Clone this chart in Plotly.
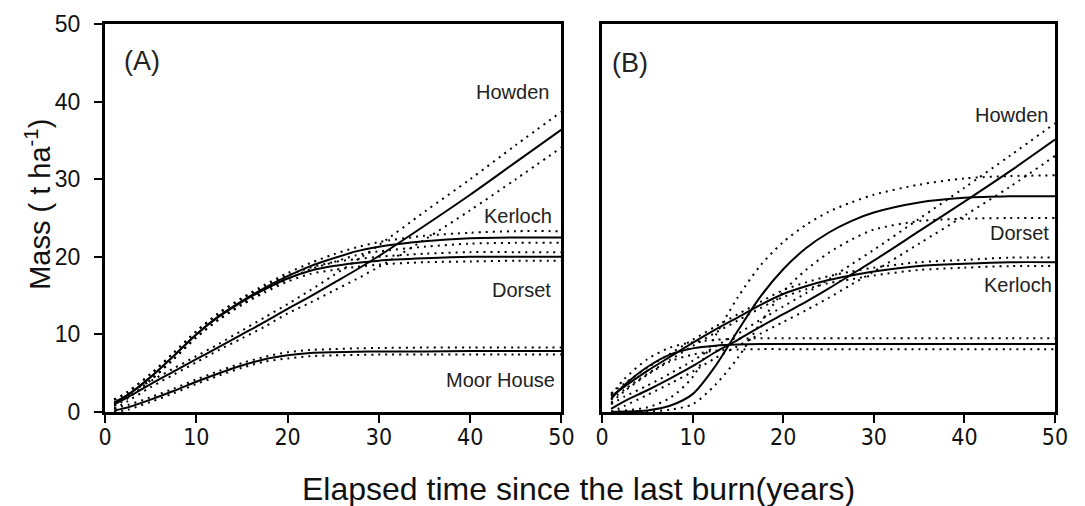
import plotly.graph_objects as go

# ---------------- data ----------------
years = [1, 2.5, 5, 7.5, 10, 12.5, 15, 17.5, 20, 22.5, 25, 27.5, 30, 35, 40, 45, 50]
x_ticks = [0, 10, 20, 30, 40, 50]
y_ticks = [0, 10, 20, 30, 40, 50]

# Panel (A)
a_howden = [1.0, 1.9, 3.6, 5.2, 6.8, 8.4, 10.0, 11.6, 13.3, 14.9, 16.6, 18.3, 20.1, 24.0, 28.0, 32.2, 36.4]
a_howden_hi = [1.6, 2.4, 4.0, 5.6, 7.2, 8.8, 10.5, 12.2, 13.9, 15.7, 17.6, 19.5, 21.5, 25.8, 30.0, 34.4, 38.7]
a_howden_lo = [0.4, 1.4, 3.2, 4.8, 6.4, 8.0, 9.5, 11.0, 12.7, 14.1, 15.6, 17.1, 18.7, 22.2, 26.0, 30.0, 34.1]

a_kerloch = [1.2, 2.2, 4.5, 7.2, 10.0, 12.4, 14.3, 16.0, 17.5, 18.8, 19.8, 20.7, 21.3, 22.0, 22.4, 22.5, 22.5]
a_kerloch_hi = [1.6, 2.6, 4.9, 7.6, 10.4, 12.8, 14.7, 16.4, 17.9, 19.2, 20.3, 21.2, 21.9, 22.7, 23.1, 23.3, 23.3]
a_kerloch_lo = [0.8, 1.8, 4.1, 6.8, 9.6, 12.0, 13.9, 15.6, 17.1, 18.4, 19.3, 20.2, 20.7, 21.3, 21.7, 21.8, 21.8]

a_dorset = [1.2, 2.2, 4.5, 7.2, 10.0, 12.3, 14.2, 15.8, 17.2, 18.2, 18.8, 19.2, 19.5, 19.8, 20.0, 20.0, 20.0]
a_dorset_hi = [1.6, 2.6, 4.9, 7.6, 10.4, 12.7, 14.6, 16.2, 17.6, 18.6, 19.3, 19.7, 20.0, 20.4, 20.6, 20.6, 20.6]
a_dorset_lo = [0.8, 1.8, 4.1, 6.8, 9.6, 11.9, 13.8, 15.4, 16.8, 17.8, 18.3, 18.7, 19.0, 19.3, 19.4, 19.5, 19.5]

a_moor = [0.2, 0.6, 1.6, 2.7, 3.9, 5.0, 6.0, 6.8, 7.3, 7.6, 7.7, 7.75, 7.8, 7.8, 7.85, 7.85, 7.85]
a_moor_hi = [0.5, 0.9, 1.9, 3.0, 4.2, 5.3, 6.3, 7.1, 7.7, 8.0, 8.1, 8.2, 8.25, 8.3, 8.3, 8.3, 8.3]
a_moor_lo = [0.0, 0.3, 1.3, 2.4, 3.6, 4.7, 5.7, 6.5, 6.9, 7.2, 7.3, 7.35, 7.4, 7.4, 7.4, 7.4, 7.4]

# Panel (B)
b_howden = [0.4, 1.4, 2.8, 4.3, 5.9, 7.7, 9.3, 11.0, 12.6, 14.2, 15.9, 17.7, 19.5, 23.3, 27.1, 31.0, 35.1]
b_howden_hi = [1.0, 2.0, 3.4, 4.95, 6.6, 8.45, 10.1, 11.9, 13.6, 15.3, 17.1, 19.0, 20.9, 24.9, 28.9, 33.0, 37.2]
b_howden_lo = [0.0, 0.8, 2.2, 3.65, 5.2, 6.95, 8.5, 10.1, 11.6, 13.1, 14.7, 16.4, 18.1, 21.7, 25.3, 29.0, 33.0]

b_kerloch = [2.0, 3.3, 5.3, 7.1, 8.9, 10.6, 12.2, 13.8, 15.2, 16.2, 17.0, 17.6, 18.1, 18.8, 19.1, 19.3, 19.3]
b_kerloch_hi = [2.4, 3.7, 5.7, 7.5, 9.3, 11.0, 12.6, 14.2, 15.7, 16.7, 17.5, 18.1, 18.6, 19.3, 19.6, 19.9, 19.9]
b_kerloch_lo = [1.6, 2.9, 4.9, 6.7, 8.5, 10.2, 11.8, 13.4, 14.8, 15.8, 16.6, 17.1, 17.6, 18.3, 18.6, 18.8, 18.8]

b_dorset = [0.0, 0.05, 0.2, 0.8, 2.3, 5.9, 10.5, 14.9, 18.4, 21.1, 23.1, 24.6, 25.7, 27.0, 27.6, 27.8, 27.8]
b_dorset_hi = [0.1, 0.2, 0.6, 1.8, 4.5, 9.8, 14.8, 18.9, 21.9, 24.1, 25.8, 27.0, 28.0, 29.3, 30.1, 30.4, 30.5]
b_dorset_lo = [0.0, 0.0, 0.05, 0.3, 1.0, 3.5, 7.0, 11.5, 15.5, 18.3, 20.5, 22.2, 23.5, 24.6, 24.9, 25.0, 25.0]

b_moor = [1.7, 3.5, 5.8, 7.4, 8.2, 8.55, 8.7, 8.75, 8.75, 8.75, 8.75, 8.75, 8.75, 8.75, 8.75, 8.75, 8.75]
b_moor_hi = [2.2, 4.3, 6.8, 8.3, 9.0, 9.3, 9.45, 9.5, 9.5, 9.5, 9.5, 9.5, 9.5, 9.5, 9.5, 9.5, 9.5]
b_moor_lo = [1.2, 2.7, 4.8, 6.5, 7.4, 7.9, 8.05, 8.1, 8.1, 8.1, 8.1, 8.1, 8.1, 8.1, 8.1, 8.1, 8.1]

panels = {
    "A": [(a_howden, a_howden_hi, a_howden_lo), (a_kerloch, a_kerloch_hi, a_kerloch_lo),
          (a_dorset, a_dorset_hi, a_dorset_lo), (a_moor, a_moor_hi, a_moor_lo)],
    "B": [(b_howden, b_howden_hi, b_howden_lo), (b_kerloch, b_kerloch_hi, b_kerloch_lo),
          (b_dorset, b_dorset_hi, b_dorset_lo), (b_moor, b_moor_hi, b_moor_lo)],
}

# ---------------- figure ----------------
fig = go.Figure()
axes = {"A": ("x", "y"), "B": ("x2", "y2")}
for key, series in panels.items():
    xa, ya = axes[key]
    for fit, hi, lo in series:
        for band in (hi, lo):
            fig.add_trace(go.Scatter(x=years, y=band, xaxis=xa, yaxis=ya, mode="lines",
                                     line=dict(color="black", width=2, dash="2px,5px", shape="spline", smoothing=0.8),
                                     showlegend=False, hoverinfo="skip"))
        fig.add_trace(go.Scatter(x=years, y=fit, xaxis=xa, yaxis=ya, mode="lines",
                                 line=dict(color="black", width=2, shape="spline", smoothing=0.8),
                                 showlegend=False, hoverinfo="skip"))

TICKFONT_X = dict(family="Liberation Sans Narrow, DejaVu Sans Condensed, Arial Narrow, Liberation Sans, Arial", size=23, color="#111")
TICKFONT_Y = dict(family="Liberation Sans, Arial, sans-serif", size=23, color="#111")
LABFONT = dict(family="Liberation Sans, Arial, sans-serif", size=20, color="#222")

xcommon = dict(range=[0, 50], tickvals=x_ticks, ticks="outside", ticklen=8, tickwidth=1.5, tickcolor="black",
               showline=True, linecolor="black", linewidth=3, mirror=True, showgrid=False, zeroline=False,
               tickfont=TICKFONT_X, ticklabelstandoff=-6)
ycommon = dict(range=[0, 50], showline=True, linecolor="black", linewidth=3, mirror=True,
               showgrid=False, zeroline=False)

fig.update_layout(
    width=1085, height=506,
    margin=dict(l=105, r=30, t=24, b=94),
    paper_bgcolor="white", plot_bgcolor="white",
    xaxis=dict(domain=[0, 0.4805], anchor="y", **xcommon),
    yaxis=dict(domain=[0, 1], anchor="x", tickvals=y_ticks, ticks="outside", ticklen=8, tickwidth=1.5,
               tickcolor="black", tickfont=TICKFONT_Y, ticklabelstandoff=9, **ycommon),
    xaxis2=dict(domain=[0.5232, 1.0], anchor="y2", **xcommon),
    yaxis2=dict(domain=[0, 1], anchor="x2", showticklabels=False, ticks="", **ycommon),
)

ann = [
    ("x", "y", 1.86, 45.2, "(A)", "left", 27),
    ("x", "y", 48.85, 41.3, "Howden", "right", 20),
    ("x", "y", 49.2, 25.2, "Kerloch", "right", 20),
    ("x", "y", 49.1, 15.7, "Dorset", "right", 20),
    ("x", "y", 49.5, 4.1, "Moor House", "right", 20),
    ("x2", "y2", 0.83, 45.0, "(B)", "left", 27),
    ("x2", "y2", 49.4, 38.3, "Howden", "right", 20),
    ("x2", "y2", 49.6, 23.1, "Dorset", "right", 20),
    ("x2", "y2", 49.9, 16.4, "Kerloch", "right", 20),
    ("x2", "y2", 50.2, 5.2, "Moor House", "right", 20),
]
for xr, yr, xv, yv, txt, anc, sz in ann:
    fig.add_annotation(xref=xr, yref=yr, x=xv, y=yv, text=txt, showarrow=False, xanchor=anc,
                       yanchor="middle", font=dict(LABFONT, size=sz))

fig.add_annotation(xref="paper", yref="paper", x=-0.0705, y=0.534, text="Mass ( t ha<sup>-1</sup>)",
                   textangle=-90, showarrow=False, xanchor="center", yanchor="middle",
                   font=dict(family="Liberation Sans, Arial, sans-serif", size=29, color="#111"))
fig.add_annotation(xref="paper", yref="paper", x=0.498, y=-0.198, text="Elapsed time since the last burn(years)",
                   showarrow=False, xanchor="center", yanchor="middle",
                   font=dict(family="Liberation Sans, Arial, sans-serif", size=32, color="#111"))

fig.write_html("out.html", config={"displayModeBar": False},
               post_script="document.body.style.margin='0';document.documentElement.style.overflow='hidden';")
